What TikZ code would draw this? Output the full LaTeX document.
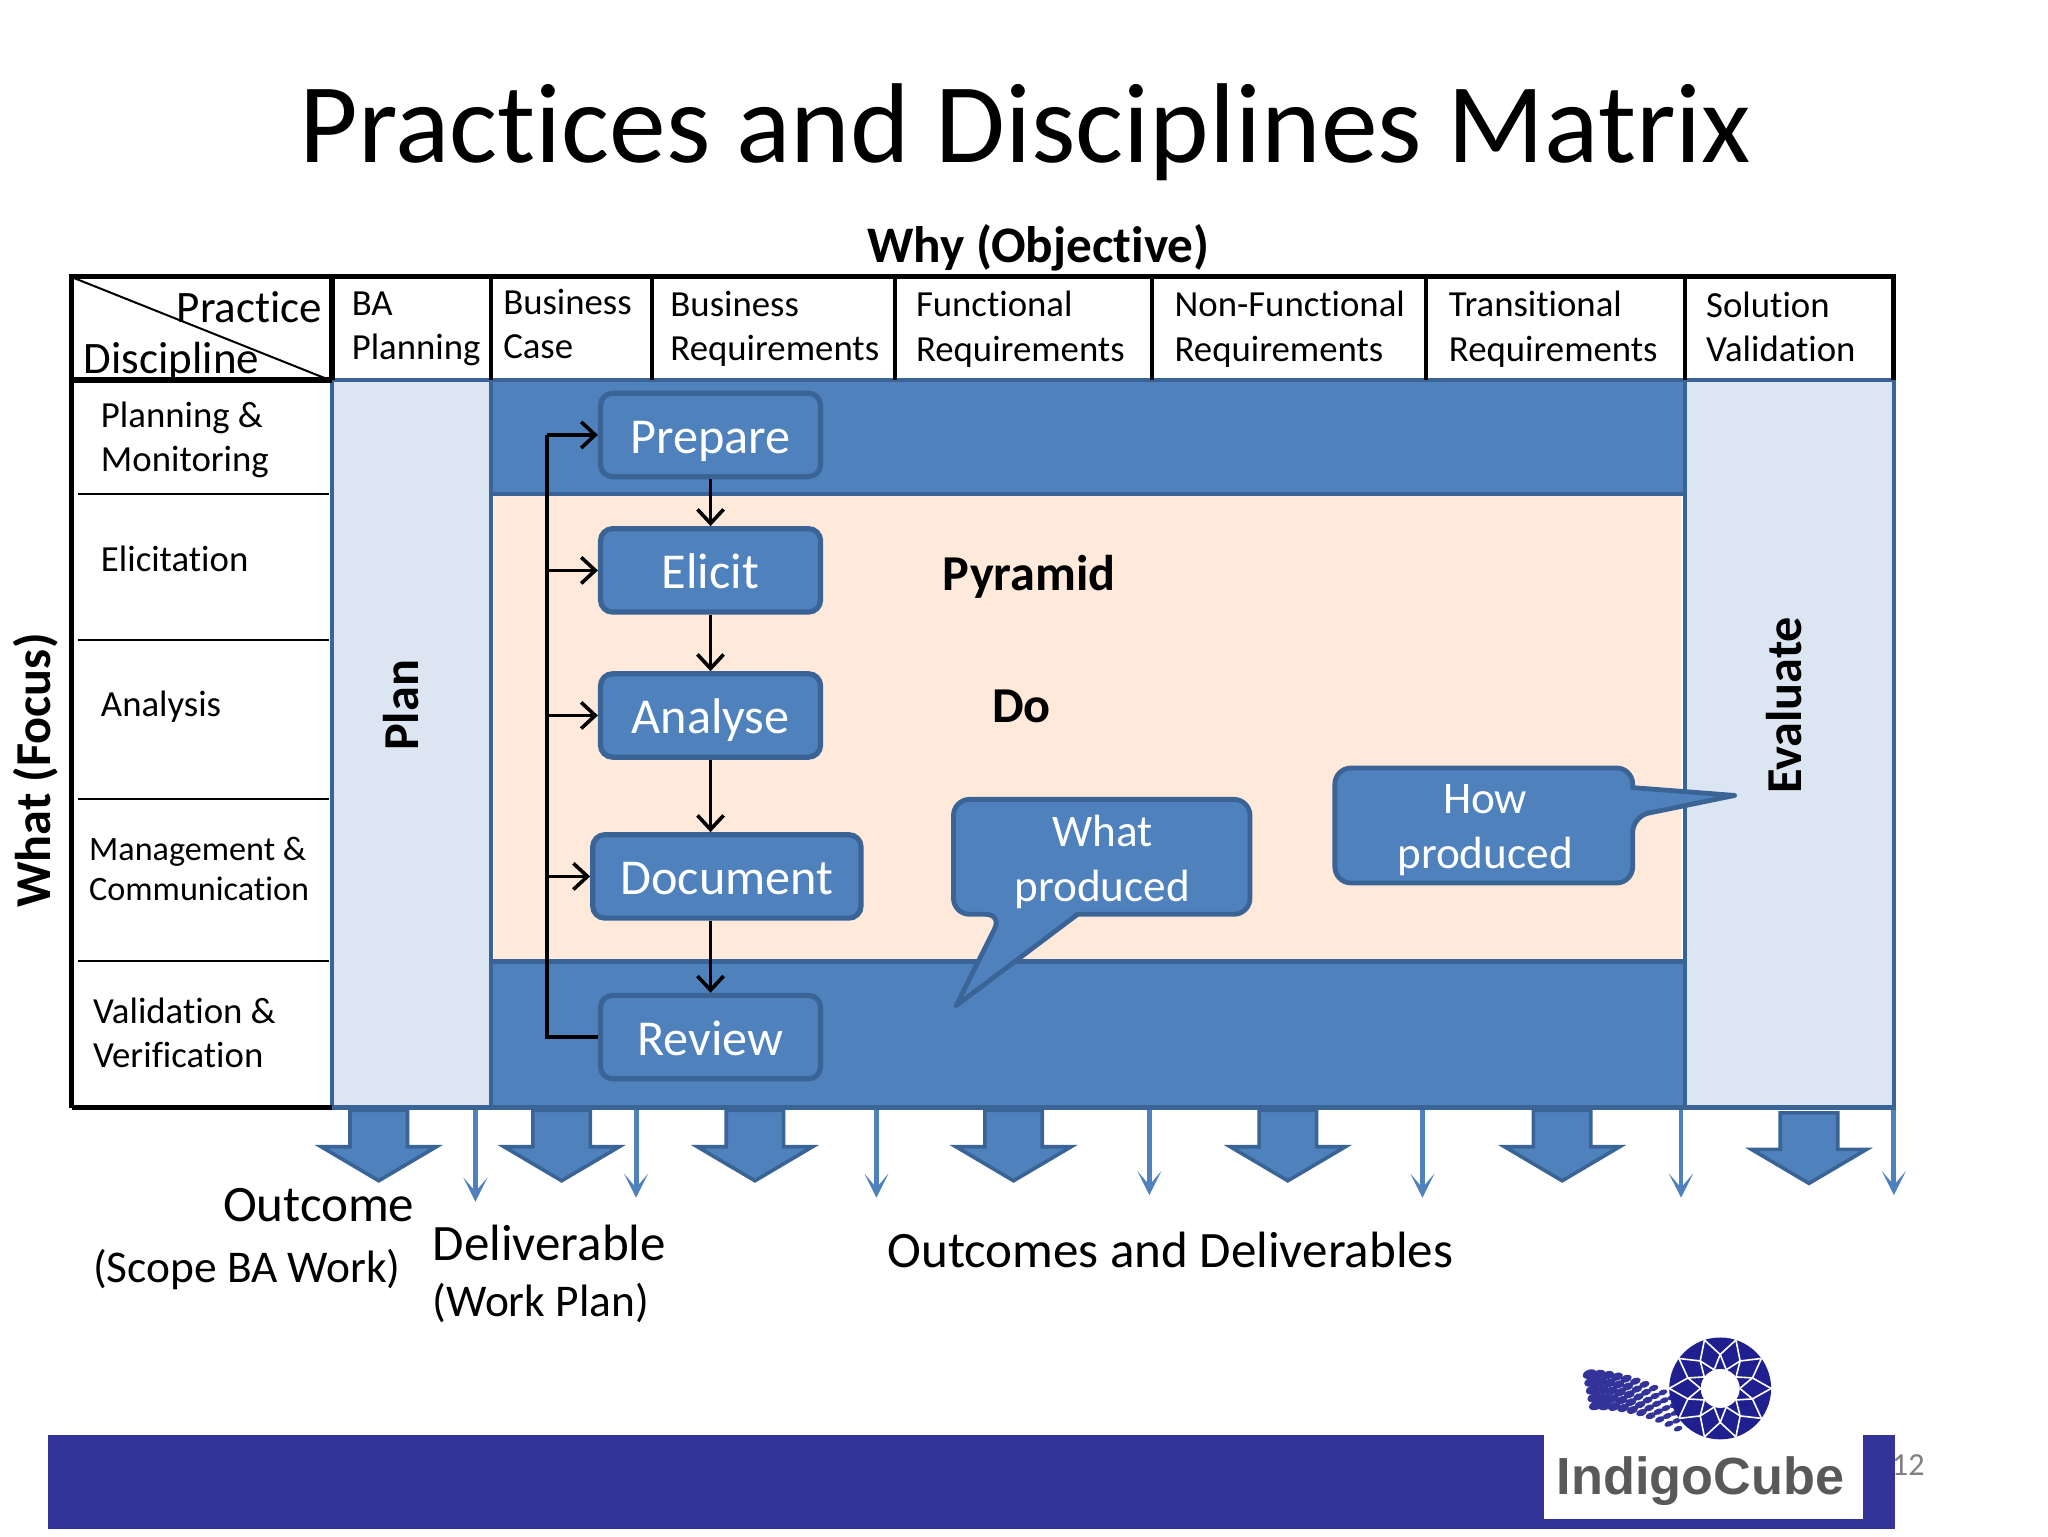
\documentclass[tikz,border=0pt]{standalone}
\usepackage{fontspec}
\setmainfont[Ligatures=NoCommon]{Carlito}
\newfontfamily\logofont{Liberation Sans}
\usepackage{tikz}
\usetikzlibrary{arrows.meta,positioning}
\definecolor{panelblue}{HTML}{4F81BD}
\definecolor{edgeblue}{HTML}{3A6496}
\definecolor{paleblue}{HTML}{DCE6F2}
\definecolor{palepeach}{HTML}{FFE9DB}
\definecolor{barblue}{HTML}{333399}
\definecolor{ringblue}{HTML}{1F1F8F}
\tikzset{
  band/.style={draw=edgeblue,line width=2.2pt,fill=panelblue},
  column/.style={draw=edgeblue,line width=2.2pt,fill=paleblue},
  grid/.style={line width=2.4pt,black},
  rowline/.style={line width=1pt,black},
  stepbox/.style={draw=edgeblue,line width=2.6pt,fill=panelblue,rounded corners=6pt,
    text=white,font=\fontsize{25}{30}\selectfont,text height=23pt,text depth=5pt,
    minimum width=109.5pt,minimum height=41.5pt,inner sep=0pt},
  flow/.style={->,>={Straight Barb[length=7pt,width=13pt]},line width=1.8pt,black},
  calloutbox/.style={draw=edgeblue,line width=2.4pt,fill=panelblue,line join=round},
  callouttext/.style={text=white,align=center,font=\fontsize{22.5}{27.5}\selectfont},
  cell/.style={anchor=west,align=left,inner sep=0pt,font=\fontsize{18.3}{22}\selectfont},
  heading/.style={font=\fontsize{25}{30}\selectfont\bfseries,inner sep=0pt},
  note/.style={font=\fontsize{25.4}{30}\selectfont,inner sep=0pt},
  blockarrow/.style={draw=edgeblue,line width=1.8pt,fill=panelblue,line join=miter},
  outarrow/.style={->,>={Stealth[length=12pt,width=12pt,inset=7pt]},line width=2.4pt,panelblue}
}
\begin{document}
\begin{tikzpicture}[x=0.65pt,y=-0.65pt]
  \useasboundingbox (0,0) rectangle (1568,1176);
  % title
  \node (title) at (785,101) {\fontsize{56.5}{68}\selectfont Practices and Disciplines Matrix};
  \node (why) [heading,font=\fontsize{25.5}{30}\selectfont\bfseries] at (795,190) {Why (Objective)};
  \node (what) [heading,rotate=90] at (27,590) {What (Focus)};
  % block arrows under the matrix
  \foreach \x in {290,430,578,776,986,1196}
    \draw[blockarrow] (\x,850) ++(-22,0) -- ++(44,0) -- ++(0,28) -- ++(22,0) -- ++(-44,26) -- ++(-44,-26) -- ++(22,0) -- cycle;
  \draw[blockarrow] (1385,852) ++(-22,0) -- ++(44,0) -- ++(0,28) -- ++(22,0) -- ++(-44,26) -- ++(-44,-26) -- ++(22,0) -- cycle;
  \foreach \x/\y in {364/920,487/917,671/917,880/915,1089/917,1287/917,1450/915} {
    \coordinate (out\x) at (\x,\y);
    \draw[outarrow] (\x,848) -- (out\x);
  }
  % panels
  \fill[white] (55,212) rectangle (254,848);
  \draw[column] (254,291) rectangle (376,848);
  \draw[column] (1290,291) rectangle (1450,848);
  \draw[band] (376,291) rectangle (1290,378);
  \fill[palepeach] (378,378) rectangle (1287,736);
  \draw[band] (376,736) rectangle (1290,848);
  \draw[edgeblue,line width=2.2pt] (376,378) -- (1290,378);
  % matrix lines
  \draw[grid] (55,848) -- (55,212) -- (1450,212) -- (1450,291);
  \draw[grid] (55,848) -- (254,848);
  \draw[line width=2.8pt] (53,291) -- (254,291);
  \draw[line width=2.8pt] (254,212) -- (254,291);
  \foreach \x in {376,499,685,882,1092,1290}
    \draw[line width=2pt] (\x,212) -- (\x,291);
  \draw[rowline] (57,213) -- (250,290);
  \foreach \y in {378,490,612,736}
    \draw[rowline] (60,\y) -- (252,\y);
  % header texts
  \node (practice) [anchor=east,inner sep=0pt,font=\fontsize{22.4}{26}\selectfont] at (247,235) {Practice};
  \node (discipline) [anchor=west,inner sep=0pt,font=\fontsize{22.4}{26}\selectfont] at (64,277) {Discipline};
  \node (baplan) [cell] at (269,252) {BA\\Planning};
  \node (bcase) [cell] at (385,248) {Business\\Case};
  \node (breq) [cell] at (513,252) {Business\\Requirements};
  \node (freq) [cell] at (701,252) {Functional\\Requirements};
  \node (nfreq) [cell] at (899,252) {Non-Functional\\Requirements};
  \node (treq) [cell] at (1109,252) {Transitional\\Requirements};
  \node (sval) [cell] at (1306,250) {Solution\\Validation};
  % discipline rows
  \node (planmon) [cell] at (77,337) {Planning \&\\Monitoring};
  \node (elicitation) [cell] at (77,428) {Elicitation};
  \node (analysis) [cell] at (77,541) {Analysis};
  \node (mancom) [cell,font=\fontsize{17}{20}\selectfont] at (68,665) {Management \&\\Communication};
  \node (valver) [cell] at (71,791) {Validation \&\\Verification};
  % process boxes
  \node (prepare) [stepbox] at (544,333) {Prepare};
  \node (elicit) [stepbox,below = 23.3pt of prepare] {Elicit};
  \node (analyse) [stepbox,below = 28.1pt of elicit] {Analyse};
  \node (document) [stepbox,minimum width=133.5pt] at (556.5,671) {Document};
  \node (review) [stepbox] at (544,794) {Review};
  \draw[flow] (prepare) -- (elicit);
  \draw[flow] (elicit) -- (analyse);
  \draw[flow] (analyse) -- (analyse |- document.north);
  \draw[flow] (analyse |- document.south) -- (review);
  \coordinate (bus) at (419,794);
  \draw[line width=1.8pt] (review.west) -- (bus) -- (bus |- prepare);
  \draw[flow] (bus |- prepare) -- (prepare.west);
  \draw[flow] (bus |- elicit) -- (elicit.west);
  \draw[flow] (bus |- analyse) -- (analyse.west);
  \draw[flow] (bus |- document) -- (document.west);
  % callouts
  \draw[calloutbox] (767,700) -- (732,770) -- (825,700) [rounded corners=8pt] -- (957,700) -- (957,612) -- (730,612) -- (730,700) -- cycle;
  \draw[calloutbox] (1250,625) -- (1328,609) -- (1250,603) [rounded corners=8pt] -- (1250,588) -- (1022,588) -- (1022,676) -- (1250,676) -- cycle;
  \node (whatprod) [callouttext] at (844,660) {What\\produced};
  \node (howprod) [callouttext] at (1137,635.5) {How\\produced};
  \node (pyramid) [heading] at (788,442) {Pyramid};
  \node (do) [heading] at (782,541) {Do};
  \node (plan) [heading,rotate=90] at (307,540) {Plan};
  \node (evaluate) [heading,rotate=90] at (1366,540) {Evaluate};
  % outcomes
  \node (outcome) [note] at (244,923) {Outcome};
  \node (scope) [note,font=\fontsize{22.6}{28}\selectfont] at (189,972) {(Scope BA Work)};
  \node (deliverable) [note,anchor=west] at (331,952) {Deliverable};
  \node (workplan) [note,anchor=west,font=\fontsize{22.6}{28}\selectfont] at (331,998) {(Work Plan)};
  \node (allout) [note] at (896,957) {Outcomes and Deliverables};
  % footer and logo
  \fill[barblue] (37,1099) rectangle (1451,1171);
  \fill[white] (1182,1099) rectangle (1426,1163);
  \node (logotext) [text=black!65,font=\logofont\fontsize{26}{32}\selectfont\bfseries,inner sep=0pt] at (1302,1134) {IndigoCube};
  \node (pageno) [text=black!50,font=\fontsize{16}{20}\selectfont,inner sep=0pt] at (1461,1122) {12};
  \foreach \i in {0,...,9}
    \foreach \j in {0,...,4}
      \fill[barblue,rotate around={20:(1217+7*\i+1.2*\j,1052+0.22*\i*\i+6*\j)}]
        (1217+7*\i+1.2*\j,1052+0.22*\i*\i+6*\j) ellipse ({5.4-0.22*\i} and {3.4-0.16*\i});
  \begin{scope}[shift={(1317,1063)}]
    \fill[ringblue,even odd rule] (0,0) circle (39) (0,0) circle (15);
    \foreach \a in {0,36,...,324} {
      \draw[white,line width=.8pt] (\a:15) -- (\a+18:26) -- (\a:39);
      \draw[white,line width=.8pt] (\a:15) -- (\a-18:26);
      \draw[white,line width=.8pt] (\a+18:26) -- (\a+36:39);
    }
  \end{scope}
\end{tikzpicture}
\end{document}
